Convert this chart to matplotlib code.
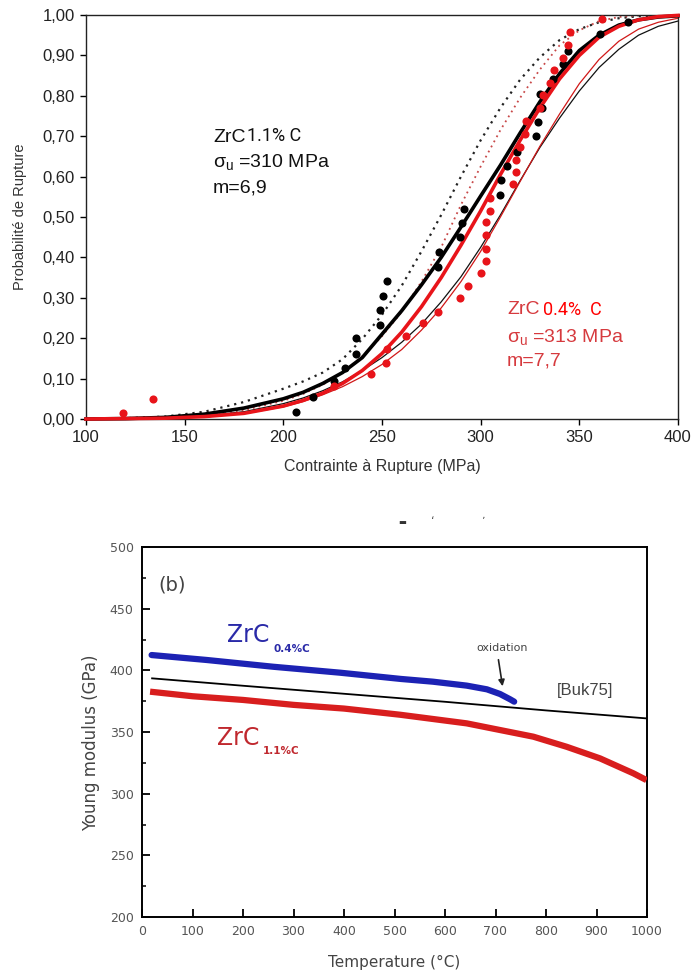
import matplotlib
matplotlib.use('Agg')
import matplotlib.pyplot as plt
from matplotlib.ticker import MultipleLocator, FuncFormatter

plt.rcParams['mathtext.fontset'] = 'custom'
plt.rcParams['mathtext.rm'] = 'Liberation Sans'
plt.rcParams['mathtext.it'] = 'Liberation Sans'
plt.rcParams['mathtext.bf'] = 'Liberation Sans:bold'

# ---------------- Top panel data ----------------
stress = [100, 120, 140, 160, 180, 200, 210, 220, 230, 240, 250, 260, 270, 280,
          290, 300, 310, 320, 330, 340, 350, 360, 370, 380, 390, 400]
p_black_fit = [0.000, 0.001, 0.004, 0.012, 0.027, 0.050, 0.066, 0.088, 0.115, 0.152,
               0.210, 0.268, 0.332, 0.400, 0.475, 0.552, 0.628, 0.708, 0.785, 0.855,
               0.912, 0.950, 0.975, 0.988, 0.995, 0.998]
p_red_fit = [0.000, 0.001, 0.002, 0.006, 0.014, 0.032, 0.046, 0.064, 0.088, 0.120,
             0.162, 0.215, 0.278, 0.350, 0.430, 0.515, 0.605, 0.690, 0.770, 0.842,
             0.900, 0.945, 0.972, 0.988, 0.996, 0.999]
p_black_low = [0.000, 0.001, 0.003, 0.008, 0.018, 0.038, 0.052, 0.070, 0.092, 0.120,
               0.152, 0.190, 0.235, 0.290, 0.352, 0.425, 0.505, 0.590, 0.672, 0.745,
               0.812, 0.870, 0.915, 0.950, 0.972, 0.985]
p_red_low = [0.000, 0.001, 0.002, 0.005, 0.013, 0.030, 0.043, 0.060, 0.080, 0.105,
             0.135, 0.172, 0.220, 0.275, 0.340, 0.415, 0.500, 0.588, 0.675, 0.755,
             0.830, 0.890, 0.935, 0.965, 0.982, 0.992]
p_black_high = [0.001, 0.002, 0.006, 0.018, 0.042, 0.075, 0.093, 0.115, 0.148, 0.198,
                0.258, 0.330, 0.415, 0.505, 0.600, 0.690, 0.770, 0.840, 0.895, 0.938,
                0.965, 0.982, 0.992, 0.997, 0.999, 1.000]
p_red_high = [0.000, 0.001, 0.003, 0.009, 0.022, 0.045, 0.062, 0.085, 0.115, 0.155,
              0.205, 0.265, 0.340, 0.425, 0.530, 0.625, 0.715, 0.795, 0.865, 0.925,
              0.962, 0.985, 0.995, 0.999, 1.000, 1.000]

black_pts_s = [206.4, 215.2, 225.8, 231.3, 236.8, 236.8, 249.0, 249.0, 250.7, 252.4,
               278.2, 279.0, 289.5, 290.4, 291.7, 309.8, 310.3, 313.2, 318.2, 328.0,
               329.2, 331.0, 330.0, 336.8, 341.6, 344.4, 360.5, 374.8]
black_pts_p = [0.018, 0.054, 0.094, 0.127, 0.161, 0.200, 0.233, 0.270, 0.304, 0.342,
               0.377, 0.413, 0.450, 0.484, 0.519, 0.554, 0.592, 0.627, 0.660, 0.700,
               0.734, 0.769, 0.804, 0.842, 0.878, 0.912, 0.952, 0.983]
red_pts_s = [118.6, 133.8, 225.8, 244.4, 252.0, 252.4, 262.0, 271.0, 278.2, 289.5,
             293.7, 300.2, 302.6, 302.6, 302.6, 302.6, 304.7, 304.7, 316.5, 317.7,
             317.7, 320.0, 322.5, 323.0, 330.0, 331.7, 335.1, 337.2, 341.9, 344.4,
             345.3, 361.3]
red_pts_p = [0.016, 0.049, 0.082, 0.111, 0.139, 0.173, 0.205, 0.237, 0.266, 0.299,
             0.329, 0.362, 0.391, 0.422, 0.455, 0.488, 0.516, 0.546, 0.581, 0.612,
             0.641, 0.674, 0.705, 0.738, 0.769, 0.802, 0.832, 0.864, 0.893, 0.926,
             0.957, 0.989]

# ---------------- Bottom panel data ----------------
temp_blue = [19, 128, 260, 392, 513, 576, 643, 683, 709, 729, 737]
mod_blue = [412.4, 408.4, 402.9, 398.1, 393.0, 390.8, 387.6, 384.6, 380.8, 376.5, 374.6]
temp_red = [16, 100, 200, 300, 400, 511, 643, 709, 775, 841, 907, 973, 999]
mod_red = [382.7, 379.0, 376.0, 372.0, 369.0, 364.0, 357.0, 351.6, 346.2, 338.0,
           328.6, 316.5, 311.0]
temp_ref = [20, 200, 400, 600, 800, 1000]
mod_ref = [393.5, 387.5, 381.0, 374.5, 367.5, 361.0]

W, H = 693, 976
fig = plt.figure(figsize=(W / 100, H / 100), dpi=100)


def fx(x):
    return x / W


def fy(y):
    return 1 - y / H


# ================= Top panel =================
ax1 = fig.add_axes([fx(86), fy(419), fx(678) - fx(86), fy(15) - fy(419)])
RED = '#e8141a'
ax1.plot(stress, p_black_high, color='#222222', lw=1.6, ls=(0, (1, 2.2)), zorder=2)
ax1.plot(stress, p_red_high, color='#c84848', lw=1.3, ls=(0, (1, 2.2)), zorder=2)
ax1.plot(stress, p_black_low, color='#111111', lw=0.9, zorder=2)
ax1.plot(stress, p_red_low, color='#d01818', lw=0.9, zorder=2)
ax1.plot(stress, p_black_fit, color='black', lw=2.6, zorder=3, clip_on=False)
ax1.plot(stress, p_red_fit, color=RED, lw=2.6, zorder=3, clip_on=False)
ax1.scatter(black_pts_s, black_pts_p, s=34, color='black', zorder=4, lw=0)
ax1.scatter(red_pts_s, red_pts_p, s=34, color=RED, zorder=5, lw=0)

ax1.set_xlim(100, 400)
ax1.set_ylim(0, 1)
ax1.xaxis.set_major_locator(MultipleLocator(50))
ax1.yaxis.set_major_locator(MultipleLocator(0.1))
ax1.yaxis.set_major_formatter(FuncFormatter(lambda v, p: f"{v:.2f}".replace('.', ',')))
ax1.tick_params(direction='out', length=4, width=1, labelsize=12, pad=4,
                labelcolor='#222222')
for lab in ax1.get_xticklabels() + ax1.get_yticklabels():
    lab.set_fontfamily('Liberation Sans')
for s in ax1.spines.values():
    s.set_linewidth(1.0)
    s.set_color('#222222')

fig.text(fx(382), fy(467), 'Contrainte à Rupture (MPa)', ha='center', va='center',
         fontsize=11.5, family='Liberation Sans', color='#333333')
fig.text(fx(20), fy(217), 'Probabilité de Rupture', ha='center', va='center',
         rotation=90, fontsize=10.5, family='Liberation Sans', color='#333333')

# annotations black
fig.text(fx(213), fy(137), 'ZrC', ha='left', va='center', fontsize=14,
         family='Liberation Sans', color='#111111')
fig.text(fx(247), fy(136), '1.1% C', ha='left', va='center', fontsize=13,
         family='Roboto', color='#111111')
fig.text(fx(213), fy(162), r'$\sigma_\mathregular{u}$ =310 MPa', ha='left', va='center',
         fontsize=14, family='Liberation Sans', color='#111111')
fig.text(fx(213), fy(188), 'm=6,9', ha='left', va='center', fontsize=14,
         family='Liberation Sans', color='#111111')
# annotations red
RT = '#d63a3e'
fig.text(fx(507), fy(310), 'ZrC', ha='left', va='center', fontsize=14,
         family='Liberation Sans', color=RT)
fig.text(fx(543), fy(310), '0.4%  C', ha='left', va='center', fontsize=13,
         family='Roboto', color='#ff0000')
fig.text(fx(507), fy(337), r'$\sigma_\mathregular{u}$ =313 MPa', ha='left', va='center',
         fontsize=14, family='Liberation Sans', color=RT)
fig.text(fx(507), fy(361), 'm=7,7', ha='left', va='center', fontsize=14,
         family='Liberation Sans', color=RT)

# remnants of a cut-off title between the panels
fig.text(fx(402), fy(522), '▬', ha='center', va='center', fontsize=6,
         family='DejaVu Sans', color='#333333')
fig.text(fx(433), fy(521), 'ʻ', ha='center', va='center', fontsize=8,
         family='DejaVu Sans', color='#555555')
fig.text(fx(483), fy(521), 'ʼ', ha='center', va='center', fontsize=8,
         family='DejaVu Sans', color='#555555')

# ================= Bottom panel =================
ax2 = fig.add_axes([fx(142), fy(917), fx(647) - fx(142), fy(547) - fy(917)])
ax2.plot(temp_ref, mod_ref, color='black', lw=1.3, zorder=2)
ax2.plot(temp_red, mod_red, color='#d81e1e', lw=4.5, zorder=3, solid_capstyle='butt')
ax2.plot(temp_blue, mod_blue, color='#1c22b4', lw=4.5, zorder=3, solid_capstyle='round')
ax2.set_xlim(0, 1000)
ax2.set_ylim(200, 500)
ax2.xaxis.set_major_locator(MultipleLocator(100))
ax2.yaxis.set_major_locator(MultipleLocator(50))
ax2.yaxis.set_minor_locator(MultipleLocator(25))
ax2.tick_params(which='major', direction='in', length=6, width=1.3, labelsize=9,
                labelcolor='#555555', pad=6)
ax2.tick_params(which='minor', direction='in', length=3, width=1.1)
for s in ax2.spines.values():
    s.set_linewidth(1.4)

fig.text(fx(394), fy(962), 'Temperature (°C)', ha='center', va='center',
         fontsize=11, family='DejaVu Sans', color='#444444')
fig.text(fx(91), fy(743), 'Young modulus (GPa)', ha='center', va='center',
         rotation=90, fontsize=12, family='DejaVu Sans', color='#444444')

fig.text(fx(158), fy(585), '(b)', ha='left', va='center', fontsize=14,
         family='DejaVu Sans', color='#444444')
fig.text(fx(227), fy(635), 'ZrC', ha='left', va='center', fontsize=17,
         family='DejaVu Sans', color='#2a2aa8')
fig.text(fx(273), fy(649), '0.4%C', ha='left', va='center', fontsize=7.5,
         family='DejaVu Sans', color='#2a2aa8', weight='bold')
fig.text(fx(217), fy(738), 'ZrC', ha='left', va='center', fontsize=17,
         family='DejaVu Sans', color='#c0282e')
fig.text(fx(263), fy(751), '1.1%C', ha='left', va='center', fontsize=7.5,
         family='DejaVu Sans', color='#c0282e', weight='bold')
fig.text(fx(502), fy(648), 'oxidation', ha='center', va='center', fontsize=8,
         family='DejaVu Sans', color='#444444')
fig.text(fx(557), fy(690), '[Buk75]', ha='left', va='center', fontsize=12,
         family='Liberation Sans', color='#444444')
ax2.annotate('', xy=(fx(503), fy(689)), xytext=(fx(498), fy(657)),
             xycoords='figure fraction', textcoords='figure fraction',
             arrowprops=dict(arrowstyle='-|>', color='#222222', lw=1.2,
                             mutation_scale=9))

fig.savefig('out.png', dpi=100)
